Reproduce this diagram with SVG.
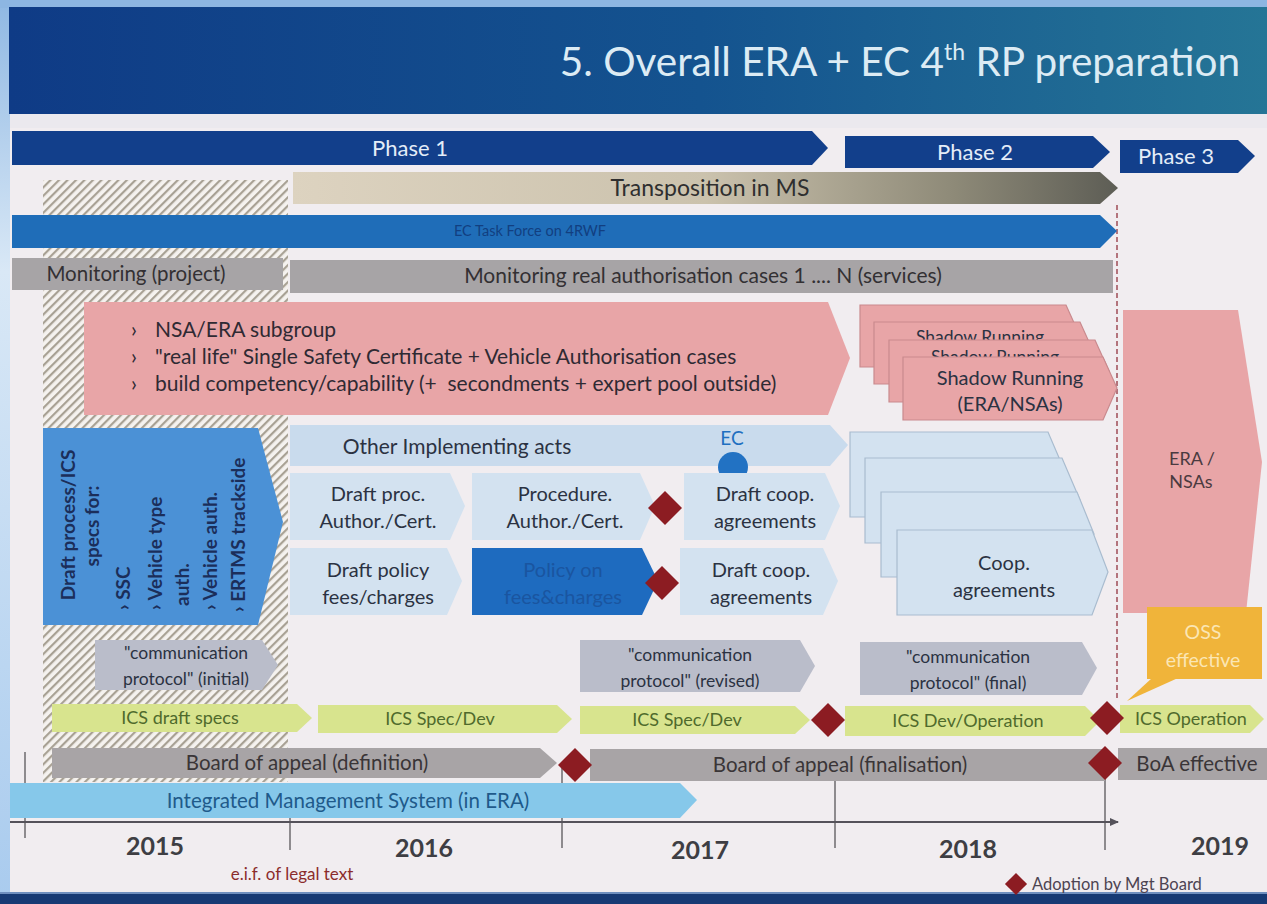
<svg xmlns="http://www.w3.org/2000/svg" width="1267" height="904" viewBox="0 0 1267 904">
  <defs>
    <style>
      text { font-family: Lato, "Liberation Sans", sans-serif; }
      .bx { font-size: 20px; fill: #2b3242; text-anchor: middle; }
      .cpt { font-size: 17.5px; fill: #2b3242; text-anchor: middle; }
      .pink { fill: #e8a5a7; }
      .pinkst { fill: #e8a5a7; stroke: #c98a8e; stroke-width: 1.2; }
      .lb { fill: #d3e2f0; }
      .lbst { fill: #d3e2f0; stroke: #a9bccf; stroke-width: 1.2; }
      .dm { fill: #8c1c22; }
      .cp { fill: #babdca; }
      .ics { fill: #d8e48e; }
      .ict { font-size: 18px; fill: #4f6a2c; text-anchor: middle; }
      .boa { fill: #a8a4a6; }
      .bt { font-size: 20.5px; fill: #3a3537; text-anchor: middle; }
      .ph { fill: #123f8b; }
      .pt { font-size: 22px; fill: #e4edf8; text-anchor: middle; }
      .yr { font-size: 25px; font-weight: bold; fill: #3e3e43; text-anchor: middle; }
      .vt { font-size: 19px; font-weight: bold; fill: #1b2e5a; }
      .tick { stroke: #6d6a6e; stroke-width: 1.5; }
    </style>
    <linearGradient id="hdrGrad" x1="0" y1="0" x2="1" y2="0">
      <stop offset="0" stop-color="#0f3b86"/>
      <stop offset="0.55" stop-color="#14538f"/>
      <stop offset="1" stop-color="#257596"/>
    </linearGradient>
    <linearGradient id="sideGrad" x1="0" y1="0" x2="0" y2="1">
      <stop offset="0" stop-color="#8fb8e3"/>
      <stop offset="0.3" stop-color="#d9e8f6"/>
      <stop offset="1" stop-color="#a9cbee"/>
    </linearGradient>
    <linearGradient id="transGrad" x1="0" y1="0" x2="1" y2="0">
      <stop offset="0" stop-color="#ddd3c0"/>
      <stop offset="0.5" stop-color="#cbc2ad"/>
      <stop offset="0.8" stop-color="#8e8a78"/>
      <stop offset="1" stop-color="#5d5d55"/>
    </linearGradient>
    <pattern id="hatch" patternUnits="userSpaceOnUse" width="6" height="6" patternTransform="rotate(45)">
      <rect width="6" height="6" fill="#f5f2ef"/>
      <rect width="2.2" height="6" fill="#a8a194"/>
    </pattern>
    <path id="dia" d="M0,-17 L17,0 L0,17 L-17,0 Z"/>
    <marker id="arrowHead" markerWidth="10" markerHeight="10" refX="8" refY="5" orient="auto" markerUnits="userSpaceOnUse">
      <path d="M0,1 L9,5 L0,9 Z" fill="#55525a"/>
    </marker>
  </defs>

  <!-- page background -->
  <rect width="1267" height="904" fill="#f1edf0"/>
  <rect x="0" y="0" width="10" height="904" fill="url(#sideGrad)"/>
  <rect x="0" y="0" width="1267" height="8" fill="#8db6e2"/>
  <rect x="10" y="114" width="1257" height="14" fill="#ebe9ee"/>
  <rect x="0" y="892" width="1267" height="12" fill="#173a74"/>
  <rect x="0" y="892" width="1267" height="2" fill="#6f8fbf"/>

  <!-- header -->
  <g id="header">
    <rect x="9" y="7" width="1258" height="107" fill="url(#hdrGrad)"/>
    <text x="1240" y="76" text-anchor="end" font-size="40.5" fill="#dcebf4">5. Overall ERA + EC 4<tspan dy="-16" font-size="23">th</tspan><tspan dy="16"> RP preparation</tspan></text>
  </g>

  <!-- hatched start-up period -->
  <rect id="startup-hatch" x="43" y="180" width="245" height="602" fill="url(#hatch)"/>

  <!-- time axis, ticks and phase boundary -->
  <g id="connectors">
    <line class="tick" x1="25" y1="752" x2="25" y2="838"/>
    <line class="tick" x1="290" y1="800" x2="290" y2="850"/>
    <line class="tick" x1="562" y1="765" x2="562" y2="848"/>
    <line class="tick" x1="835" y1="770" x2="835" y2="848"/>
    <line class="tick" x1="1105" y1="765" x2="1105" y2="850"/>
    <line x1="10" y1="822" x2="1118" y2="822" stroke="#55525a" stroke-width="2" marker-end="url(#arrowHead)"/>
    <line x1="1117" y1="205" x2="1117" y2="700" stroke="#a45560" stroke-width="1.6" stroke-dasharray="5 3"/>
    <polygon points="1152,678 1178,678 1127,701" fill="#f0b43a"/>
  </g>

  <!-- phases -->
  <g id="phase-1">
    <polygon class="ph" points="12,131 812,131 828,148 812,165 12,165"/>
    <text class="pt" x="410" y="156">Phase 1</text>
  </g>
  <g id="phase-2">
    <polygon class="ph" points="845,136 1093,136 1110,152 1093,168 845,168"/>
    <text class="pt" x="975" y="160">Phase 2</text>
  </g>
  <g id="phase-3">
    <polygon class="ph" points="1120,140 1238,140 1255,156 1238,173 1120,173"/>
    <text class="pt" x="1176" y="164">Phase 3</text>
  </g>

  <g id="transposition">
    <polygon points="293,172 1100,172 1118,188 1100,204 293,204" fill="url(#transGrad)"/>
    <text x="710" y="196" text-anchor="middle" font-size="23" fill="#2f2f2f">Transposition in MS</text>
  </g>

  <g id="ec-task-force">
    <polygon points="12,215 1100,215 1117,231 1100,248 12,248" fill="#1f6db8"/>
    <text x="530" y="236" text-anchor="middle" font-size="14.5" fill="#123f80">EC Task Force on 4RWF</text>
  </g>

  <g id="monitoring-project">
    <rect x="12" y="258" width="271" height="32" fill="#a7a4a6"/>
    <text x="136" y="281" text-anchor="middle" font-size="20.5" fill="#333033">Monitoring (project)</text>
  </g>
  <g id="monitoring-cases">
    <rect x="290" y="260" width="823" height="33" fill="#a7a4a6"/>
    <text x="703" y="283" text-anchor="middle" font-size="21" fill="#333033">Monitoring real authorisation cases 1 .... N (services)</text>
  </g>

  <g id="nsa-era-subgroup">
    <polygon class="pink" points="84,302 828,302 850,358 828,415 84,415"/>
    <g font-size="21" fill="#2f2a33">
      <text x="131" y="337">›</text>
      <text x="155" y="337">NSA/ERA subgroup</text>
      <text x="131" y="364">›</text>
      <text x="155" y="364">"real life" Single Safety Certificate + Vehicle Authorisation cases</text>
      <text x="131" y="391">›</text>
      <text x="155" y="391">build competency/capability (+&#160; secondments + expert pool outside)</text>
    </g>
  </g>

  <g id="shadow-running">
    <polygon class="pinkst" points="860,305 1066,305 1080,336 1066,367 860,367"/>
    <polygon class="pinkst" points="874,322 1080,322 1094,353 1080,384 874,384"/>
    <text x="980" y="343" text-anchor="middle" font-size="17.5" fill="#2b3242">Shadow Running</text>
    <polygon class="pinkst" points="889,340 1095,340 1109,371 1095,402 889,402"/>
    <text x="995" y="363" text-anchor="middle" font-size="17.5" fill="#2b3242">Shadow Running</text>
    <polygon class="pinkst" points="903,357 1103,357 1117,388 1103,420 903,420"/>
    <text class="bx" x="1010" y="385">Shadow Running</text>
    <text class="bx" x="1010" y="411">(ERA/NSAs)</text>
  </g>

  <g id="era-nsas">
    <polygon class="pink" points="1123,310 1238,310 1262,462 1246,613 1123,613"/>
    <text x="1192" y="465" text-anchor="middle" font-size="18" fill="#4a3a40">ERA /</text>
    <text x="1191" y="488" text-anchor="middle" font-size="18" fill="#4a3a40">NSAs</text>
  </g>

  <g id="draft-process-specs">
    <polygon points="43,428 258,428 283,522 258,625 43,625" fill="#4b91d6"/>
    <text class="vt" text-anchor="middle" transform="translate(75,525) rotate(-90)">Draft process/ICS</text>
    <text class="vt" text-anchor="middle" transform="translate(99,526) rotate(-90)">specs for:</text>
    <text class="vt" transform="translate(130,610) rotate(-90)">› SSC</text>
    <text class="vt" transform="translate(162,610) rotate(-90)">› Vehicle type</text>
    <text class="vt" transform="translate(189,606) rotate(-90)">auth.</text>
    <text class="vt" transform="translate(217,610) rotate(-90)">› Vehicle auth.</text>
    <text class="vt" transform="translate(245,612) rotate(-90)">› ERTMS trackside</text>
  </g>

  <g id="other-implementing-acts">
    <polygon points="290,425 830,425 848,445 830,466 290,466" fill="#c9dbed"/>
    <text x="457" y="454" text-anchor="middle" font-size="21" fill="#2b3242">Other Implementing acts</text>
  </g>

  <g id="ec-milestone">
    <text x="732" y="445" text-anchor="middle" font-size="19" fill="#1f6fc0">EC</text>
    <circle cx="733" cy="467" r="15" fill="#2272c3"/>
  </g>

  <g id="draft-proc">
    <polygon class="lb" points="290,473 450,473 465,506 450,540 290,540"/>
    <text class="bx" x="378" y="501">Draft proc.</text>
    <text class="bx" x="378" y="528">Author./Cert.</text>
  </g>
  <g id="procedure">
    <polygon class="lb" points="472,473 640,473 655,506 640,540 472,540"/>
    <text class="bx" x="565" y="501">Procedure.</text>
    <text class="bx" x="565" y="528">Author./Cert.</text>
  </g>
  <g id="draft-coop-1">
    <polygon class="lb" points="684,473 825,473 840,506 825,540 684,540"/>
    <text class="bx" x="765" y="501">Draft coop.</text>
    <text class="bx" x="765" y="528">agreements</text>
  </g>
  <g id="draft-policy">
    <polygon class="lb" points="290,548 447,548 462,581 447,615 290,615"/>
    <text class="bx" x="378" y="577">Draft policy</text>
    <text class="bx" x="378" y="604">fees/charges</text>
  </g>
  <g id="policy-fees">
    <polygon points="472,548 642,548 658,581 642,615 472,615" fill="#1e6bbf"/>
    <text class="bx" x="563" y="577" style="fill:#1a55a0">Policy on</text>
    <text class="bx" x="563" y="604" style="fill:#1a55a0">fees&amp;charges</text>
  </g>
  <g id="draft-coop-2">
    <polygon class="lb" points="680,548 823,548 838,581 823,615 680,615"/>
    <text class="bx" x="761" y="577">Draft coop.</text>
    <text class="bx" x="761" y="604">agreements</text>
  </g>
  <g id="adoption-procedure"><use href="#dia" class="dm" x="665" y="508"/></g>
  <g id="adoption-policy"><use href="#dia" class="dm" x="662" y="583"/></g>

  <g id="coop-agreements">
    <polygon class="lbst" points="850,432 1048,432 1066,474 1048,517 850,517"/>
    <polygon class="lbst" points="865,458 1062,458 1080,500 1062,543 865,543"/>
    <polygon class="lbst" points="881,492 1077,492 1094,534 1077,577 881,577"/>
    <polygon class="lbst" points="897,530 1092,530 1108,572 1092,615 897,615"/>
    <text class="bx" x="1004" y="570">Coop.</text>
    <text class="bx" x="1004" y="597">agreements</text>
  </g>

  <g id="oss-effective">
    <rect x="1147" y="607" width="115" height="72" fill="#f0b43a"/>
    <text x="1203" y="639" text-anchor="middle" font-size="19.5" fill="#fbe6b4">OSS</text>
    <text x="1203" y="667" text-anchor="middle" font-size="19.5" fill="#fbe6b4">effective</text>
  </g>

  <g id="comm-protocol-initial">
    <polygon class="cp" points="95,640 262,640 278,665 262,690 95,690"/>
    <text class="cpt" x="186" y="659">"communication</text>
    <text class="cpt" x="186" y="685">protocol" (initial)</text>
  </g>
  <g id="comm-protocol-revised">
    <polygon class="cp" points="580,640 800,640 815,666 800,692 580,692"/>
    <text class="cpt" x="690" y="661">"communication</text>
    <text class="cpt" x="690" y="687">protocol" (revised)</text>
  </g>
  <g id="comm-protocol-final">
    <polygon class="cp" points="860,642 1082,642 1097,668 1082,695 860,695"/>
    <text class="cpt" x="968" y="663">"communication</text>
    <text class="cpt" x="968" y="689">protocol" (final)</text>
  </g>

  <g id="ics-draft-specs">
    <polygon class="ics" points="52,704 297,704 312,718 297,732 52,732"/>
    <text class="ict" x="180" y="724">ICS draft specs</text>
  </g>
  <g id="ics-spec-dev-1">
    <polygon class="ics" points="318,705 557,705 572,719 557,733 318,733"/>
    <text class="ict" x="440" y="725">ICS Spec/Dev</text>
  </g>
  <g id="ics-spec-dev-2">
    <polygon class="ics" points="580,706 795,706 810,720 795,734 580,734"/>
    <text class="ict" x="687" y="726">ICS Spec/Dev</text>
  </g>
  <g id="ics-dev-operation">
    <polygon class="ics" points="845,706 1085,706 1100,721 1085,736 845,736"/>
    <text class="ict" x="968" y="727">ICS Dev/Operation</text>
  </g>
  <g id="ics-operation">
    <polygon class="ics" points="1120,705 1250,705 1264,719 1250,733 1120,733"/>
    <text class="ict" x="1191" y="725">ICS Operation</text>
  </g>
  <g id="adoption-ics-1"><use href="#dia" class="dm" x="828" y="720"/></g>
  <g id="adoption-ics-2"><use href="#dia" class="dm" x="1107" y="718"/></g>

  <g id="boa-definition">
    <polygon class="boa" points="52,748 540,748 557,763 540,778 52,778"/>
    <text class="bt" x="307" y="770">Board of appeal (definition)</text>
  </g>
  <g id="boa-finalisation">
    <rect class="boa" x="590" y="749" width="515" height="32"/>
    <text class="bt" x="840" y="772">Board of appeal (finalisation)</text>
  </g>
  <g id="boa-effective">
    <rect class="boa" x="1118" y="748" width="149" height="32"/>
    <text class="bt" x="1197" y="771">BoA effective</text>
  </g>
  <g id="adoption-boa-1"><use href="#dia" class="dm" x="575" y="765"/></g>
  <g id="adoption-boa-2"><use href="#dia" class="dm" x="1105" y="763"/></g>

  <g id="integrated-management-system">
    <polygon points="10,783 680,783 697,800 680,818 10,818" fill="#86c8ea"/>
    <text x="348" y="808" text-anchor="middle" font-size="20.5" fill="#1f5a8a">Integrated Management System (in ERA)</text>
  </g>

  <g id="years">
    <text class="yr" x="155" y="855">2015</text>
    <text class="yr" x="424" y="857">2016</text>
    <text class="yr" x="700" y="859">2017</text>
    <text class="yr" x="968" y="858">2018</text>
    <text class="yr" x="1220" y="855">2019</text>
  </g>

  <text x="292" y="880" text-anchor="middle" font-size="17" fill="#8b2c2c">e.i.f. of legal text</text>

  <g id="legend">
    <use href="#dia" class="dm" transform="translate(1016,884) scale(0.65)"/>
    <text x="1032" y="890" font-size="16.5" fill="#4d4452">Adoption by Mgt Board</text>
  </g>
</svg>
